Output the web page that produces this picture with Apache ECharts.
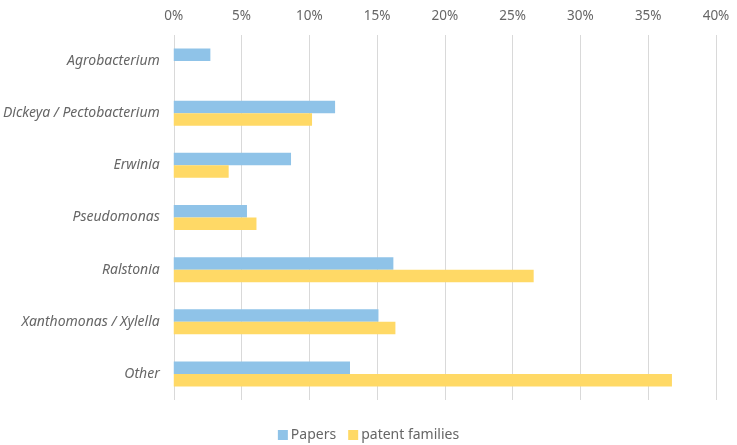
<!DOCTYPE html>
<html><head><meta charset="utf-8">
<script src="https://cdn.jsdelivr.net/npm/echarts@6/dist/echarts.min.js"></script>
<style>html,body{margin:0;padding:0;background:#fff}#c{width:737px;height:445px}</style>
</head><body><div id="c"></div>
<script>
const categories = ['Agrobacterium','Dickeya / Pectobacterium','Erwinia','Pseudomonas','Ralstonia','Xanthomonas / Xylella','Other'];
const papers = [2.7, 11.9, 8.65, 5.4, 16.2, 15.1, 13.0];
const patents = [null, 10.2, 4.05, 6.1, 26.55, 16.35, 36.75];
const seriesNames = ['Papers','patent families'];
const chart = echarts.init(document.getElementById('c'));
const font = 'Noto Sans';
const txt = '#666666';
chart.setOption({
  animation:false,
  grid:{left:173,right:21,top:35,bottom:45,containLabel:false},
  legend:{top:423,left:'center',itemWidth:10,itemHeight:10,itemGap:12,icon:'rect',
    textStyle:{color:txt,fontSize:14,fontFamily:font,padding:[0,0,0,-2]},data:seriesNames},
  xAxis:{type:'value',position:'top',min:0,max:40,interval:5,
    axisLabel:{formatter:'{value}%',color:txt,fontSize:13.5,fontFamily:font,margin:12},
    axisLine:{show:false},axisTick:{show:false},
    splitLine:{lineStyle:{color:'#d9d9d9',width:1}}},
  yAxis:{type:'category',data:categories,inverse:true,
    axisLabel:{color:txt,fontSize:14,fontStyle:'italic',fontFamily:font,margin:14},
    axisLine:{show:false},axisTick:{show:false}},
  series:[
    {name:seriesNames[0],type:'bar',data:papers,barWidth:12.5,barGap:'0%',itemStyle:{color:'#8FC3E8'}},
    {name:seriesNames[1],type:'bar',data:patents,barWidth:12.5,barGap:'0%',itemStyle:{color:'#FFD966'}}
  ]
});
</script></body></html>
